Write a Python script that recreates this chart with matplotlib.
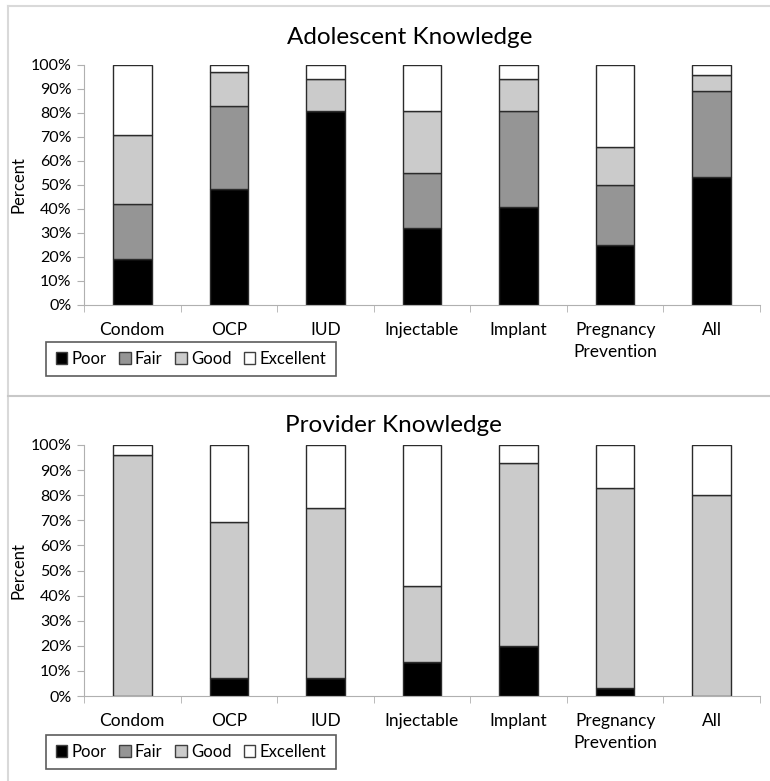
import matplotlib.pyplot as plt
import numpy as np
from matplotlib.patches import Patch

plt.rcParams['font.family'] = ['Lato', 'DejaVu Sans']

categories = ["Condom", "OCP", "IUD", "Injectable", "Implant",
              "Pregnancy\nPrevention", "All"]
levels = ["Poor", "Fair", "Good", "Excellent"]
colors = ["#000000", "#959595", "#cbcbcb", "#ffffff"]

# Adolescent knowledge (percent)
adol_poor = [19, 48.5, 81, 32, 40.7, 25, 53.5]
adol_fair = [23, 34.5, 0, 23, 40.3, 25, 35.5]
adol_good = [29, 14, 13, 26, 13, 16, 7]
adol_excellent = [29, 3, 6, 19, 6, 34, 4]

# Provider knowledge (percent)
prov_poor = [0, 7.3, 7, 13.6, 20, 3.2, 0]
prov_fair = [0, 0, 0, 0, 0, 0, 0]
prov_good = [96, 62.1, 68, 30.3, 73, 79.5, 80]
prov_excellent = [4, 30.6, 25, 56.1, 7, 17.3, 20]

W, H = 770, 781
fig = plt.figure(figsize=(W / 100, H / 100), dpi=100)

# panel frame lines
fig.add_artist(plt.Line2D([8 / W, 8 / W], [0, 1 - 6 / H], color="#d9d9d9", lw=1.5))
fig.add_artist(plt.Line2D([8 / W, 1], [1 - 6 / H, 1 - 6 / H], color="#d9d9d9", lw=1.5))
fig.add_artist(plt.Line2D([8 / W, 1], [1 - 396 / H, 1 - 396 / H], color="#c8c8c8", lw=1.5))


def draw_panel(top_px, bottom_px, title, title_x, title_y, series, legend_y):
    ax = fig.add_axes([84 / W, 1 - bottom_px / H, 676 / W, (bottom_px - top_px) / H])
    x = np.arange(len(categories))
    base = np.zeros(len(categories))
    for vals, c, lab in zip(series, colors, levels):
        vals = np.array(vals, dtype=float)
        ax.bar(x, vals, 0.4, bottom=base, color=c, edgecolor="#2b2b2b",
               linewidth=1.0, label=lab)
        base += vals
    ax.set_xlim(-0.5, len(categories) - 0.5)
    ax.set_ylim(0, 100)
    ax.set_yticks(np.arange(0, 101, 10))
    ax.set_yticklabels([f"{v}%" for v in range(0, 101, 10)], fontsize=11.5)
    ax.set_xticks(x)
    ax.set_xticklabels(categories, fontsize=12.5, linespacing=1.45, va="top")
    ax.set_xticks(np.arange(-0.5, len(categories)), minor=True)
    ax.tick_params(axis="x", which="major", length=0, pad=12)
    ax.tick_params(axis="x", which="minor", length=5, color="#b0b0b0", direction="out")
    ax.tick_params(axis="y", length=5, color="#b0b0b0", pad=4)
    for s in ["top", "right"]:
        ax.spines[s].set_visible(False)
    ax.spines["left"].set_color("#b0b0b0")
    ax.spines["bottom"].set_color("#b0b0b0")
    ax.set_ylabel("Percent", fontsize=12, labelpad=3)
    fig.text(title_x / W, 1 - title_y / H, title,
             fontsize=17.5, ha="center", va="center")
    handles = [Patch(facecolor=c, edgecolor="#404040", label=l) for c, l in zip(colors, levels)]
    leg = fig.legend(handles=handles, loc="center", ncol=4,
                     bbox_to_anchor=(191 / W, 1 - legend_y / H),
                     frameon=True, fancybox=False, fontsize=12,
                     handlelength=0.7, handleheight=0.7, handletextpad=0.25,
                     columnspacing=0.75, borderpad=0.55, borderaxespad=0)
    leg.get_frame().set_edgecolor("#333333")
    leg.get_frame().set_linewidth(1.2)
    return ax


draw_panel(65, 305, "Adolescent Knowledge", 410, 37,
           [adol_poor, adol_fair, adol_good, adol_excellent], 359)
draw_panel(445, 696, "Provider Knowledge", 393, 425,
           [prov_poor, prov_fair, prov_good, prov_excellent], 752)

fig.savefig("out.png", dpi=100)
